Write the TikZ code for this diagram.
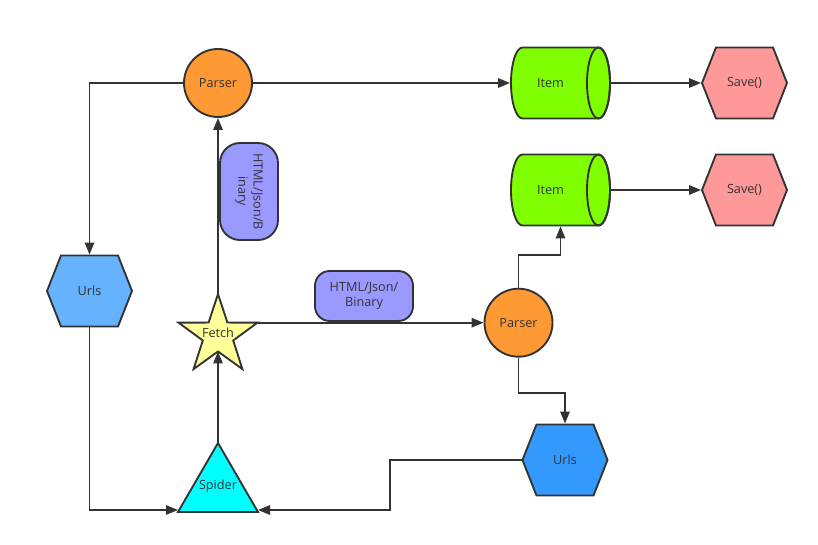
\documentclass[tikz,border=0pt]{standalone}
\usepackage{fontspec}
\setmainfont{Open Sans}
\usetikzlibrary{arrows.meta}
\definecolor{strokec}{HTML}{333333}
\definecolor{textc}{HTML}{333333}
\definecolor{parserc}{HTML}{FF9933}
\definecolor{itemc}{HTML}{80FF00}
\definecolor{savec}{HTML}{FF9999}
\definecolor{urlsa}{HTML}{66B2FF}
\definecolor{urlsb}{HTML}{3399FF}
\definecolor{starc}{HTML}{FFFF99}
\definecolor{spiderc}{HTML}{00FFFF}
\definecolor{labc}{HTML}{9999FF}
\tikzset{
  shp/.style={draw=strokec, line width=1.4pt, line join=miter},
  conn/.style={draw=strokec, line width=1.4pt, -{Triangle[length=9pt,width=7pt]}},
  txt/.style={text=textc, font=\fontsize{9.5}{11.5}\selectfont, inner sep=0pt, outer sep=0.7pt},
  labbox/.style={shp, txt, fill=labc, rounded corners=11pt, align=center},
  circnode/.style={shp, txt, circle, fill=parserc, minimum size=51pt},
}
\newcommand\hexat[5]{%
  \filldraw[shp, fill=#4] (#2-42.5,#3) -- (#2-28.5,#3-35.5) -- (#2+28.5,#3-35.5) -- (#2+42.5,#3) -- (#2+28.5,#3+35.5) -- (#2-28.5,#3+35.5) -- cycle;
  \node[txt, minimum width=63.75pt, minimum height=53.25pt] (#1) at (#2,#3) {#5};
}
\newcommand\cylat[4]{%
  \filldraw[shp, fill=itemc] (#2-38,#3-35.5) -- (#2+38,#3-35.5) arc[start angle=90, end angle=-90, x radius=8.625pt, y radius=26.625pt] -- (#2-38,#3+35.5) arc[start angle=270, end angle=90, x radius=8.625pt, y radius=26.625pt] -- cycle;
  \draw[shp] (#2+38,#3) ellipse[x radius=8.625pt, y radius=26.625pt];
  \node[txt, minimum width=74.25pt, minimum height=53.25pt] (#1) at (#2,#3) {\hspace*{-15pt}#4};
}
\begin{document}
\begin{tikzpicture}[x=0.75pt, y=-0.75pt]
\useasboundingbox (0,0) rectangle (818,545);
\fill[white] (0,0) rectangle (818,545);

% parsers
\node[circnode] (parser1) at (218,83) {Parser};
\node[circnode] (parser2) at (518.5,322.7) {Parser};

% items and saves
\cylat{item1}{560.5}{83}{Item}
\cylat{item2}{560.5}{190}{Item}
\hexat{save1}{744.5}{83}{savec}{Save()}
\hexat{save2}{744.5}{190}{savec}{Save()}

% urls
\hexat{urls1}{89.5}{291}{urlsa}{Urls}
\hexat{urls2}{565}{460}{urlsb}{Urls}

% star (Fetch)
\filldraw[shp, fill=starc] (218,335.5) +(90:31.125pt) -- +(126:12pt) -- +(162:31.125pt) -- +(198:12pt) -- +(234:31.125pt) -- +(270:12pt) -- +(306:31.125pt) -- +(342:12pt) -- +(18:31.125pt) -- +(54:12pt) -- cycle;
\node[txt] (fetch) at (218,333) {Fetch};
\coordinate (fetchN) at (218,294);
\coordinate (fetchE) at (257.5,322.7);
\coordinate (fetchS) at (218,351.5);

% triangle (Spider)
\filldraw[shp, fill=spiderc] (218,443) -- (258,512) -- (178,512) -- cycle;
\node[txt] (spider) at (218,486) {Spider};
\coordinate (spiderN) at (218,443);
\coordinate (spiderL) at (178,510);
\coordinate (spiderR) at (258,510);

% bends
\coordinate (bendA) at (390,485);
\coordinate (bendB) at (540,255);
\coordinate (bendC) at (540,393);

% connectors
\draw[conn] (parser1.west) -| (urls1.north);
\draw[conn] (parser1.east) -- (item1.west);
\draw[conn] (item1.east) -- (save1.west);
\draw[conn] (item2.east) -- (save2.west);
\draw[conn] (fetchN) -- (parser1.south);
\draw[conn] (fetchE) -- (parser2.west);
\draw[conn] (spiderN) -- (fetchS);
\draw[conn] (urls1.south) |- (spiderL);
\draw[conn] (urls2.west) -| (bendA) |- (spiderR);
\draw[conn] (parser2.north) |- (bendB) -| (item2.south);
\draw[conn] (parser2.south) |- (bendC) -| (urls2.north);

% labels
\node[labbox, rounded corners=15pt, rotate=-90, minimum width=72.75pt, minimum height=43.5pt] (lab1) at (249,191.5) {HTML/Json/B\\inary};
\node[labbox, minimum width=73.5pt, minimum height=37.5pt] (lab2) at (364,296) {HTML/Json/\\Binary};
\end{tikzpicture}
\end{document}
